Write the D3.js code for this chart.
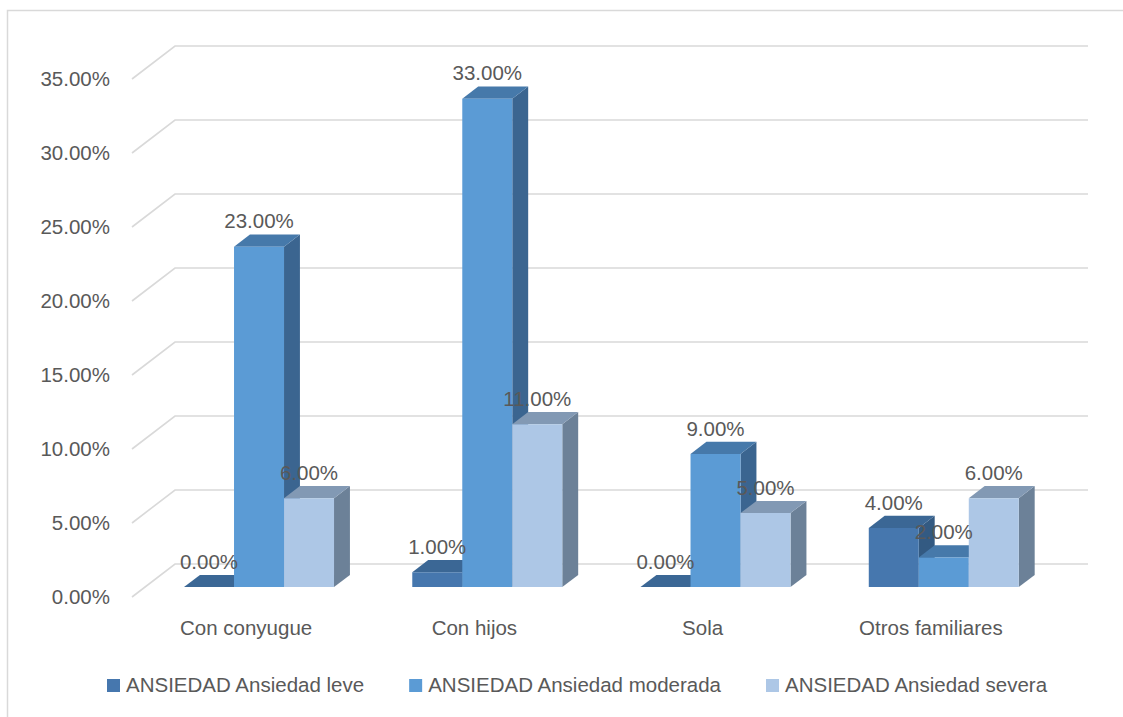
<!DOCTYPE html>
<html lang="es">
<head>
<meta charset="utf-8">
<title>Ansiedad</title>
<script src="https://cdnjs.cloudflare.com/ajax/libs/d3/7.8.5/d3.min.js"></script>
<style>
  body { margin: 0; background: #fff; }
  text { font-family: "Liberation Sans", Arial, sans-serif; fill: #595959; }
</style>
</head>
<body>
<div id="chart"></div>
<script>
// data
var categories = ["Con conyugue", "Con hijos", "Sola", "Otros familiares"];
var seriesNames = ["ANSIEDAD Ansiedad leve", "ANSIEDAD Ansiedad moderada", "ANSIEDAD Ansiedad severa"];
var leve = [0, 1, 0, 4];
var moderada = [23, 33, 9, 2];
var severa = [6, 11, 5, 6];
var yTicks = [0, 5, 10, 15, 20, 25, 30, 35];

var width = 1123, height = 717;
var svg = d3.select("#chart").append("svg").attr("width", width).attr("height", height);

// outer frame (only top and left show in the picture)
svg.append("rect").attr("x", 7.5).attr("y", 10.5).attr("width", 1300).attr("height", 900)
    .attr("fill", "none").attr("stroke", "#d9d9d9").attr("stroke-width", 1.5);

var x0 = d3.scaleBand().domain(categories).range([132, 1045]);
var x1 = d3.scaleBand().domain(seriesNames)
    .range([(x0.bandwidth() - 150) / 2, (x0.bandwidth() + 150) / 2]);
var y = d3.scaleLinear().domain([0, 35]).range([597, 79]);

// oblique depth: full depth goes 43 right and 33 up
var DX = 43, DY = -33;
var zFront = 0.3, zBack = 0.67;
function P(px, py, z) { return [px + DX * z, py + DY * z]; }

var fronts = ["#4677ae", "#5b9bd5", "#adc7e6"];
var tops = ["#3b6795", "#4679aa", "#8299b4"];
var sides = ["#335a82", "#3b6590", "#6c8198"];

// gridlines: left wall + back wall
var grid = svg.append("g");
yTicks.forEach(function(t) {
    var pts = [P(x0.range()[0], y(t), 0), P(x0.range()[0], y(t), 1), P(x0.range()[1], y(t), 1)];
    grid.append("polyline").attr("points", pts.map(function(p) { return p.join(","); }).join(" "))
        .attr("fill", "none").attr("stroke", "#d9d9d9").attr("stroke-width", 1.6);
});

// y axis labels
svg.append("g").selectAll("text").data(yTicks).enter().append("text")
    .attr("x", 110).attr("y", function(d) { return y(d); }).attr("dy", "0.36em")
    .attr("text-anchor", "end").attr("font-size", "20.5px")
    .text(function(d) { return d3.format(".2f")(d) + "%"; });

var allSeries = [leve, moderada, severa];
var bars = [];
categories.forEach(function(c, ci) {
    seriesNames.forEach(function(s, si) {
        bars.push({ cat: c, si: si, v: allSeries[si][ci] });
    });
});

var gBars = svg.append("g");
bars.forEach(function(b) {
    var xl = x0(b.cat) + x1(seriesNames[b.si]);
    var xr = xl + x1.bandwidth();
    var yv = y(b.v), yb = y(0);
    var poly = function(pts) {
        gBars.append("polygon").attr("points", pts.map(function(p) { return p.join(","); }).join(" "));
        return gBars.select("polygon:last-child");
    };
    poly([P(xr, yv, zFront), P(xr, yb, zFront), P(xr, yb, zBack), P(xr, yv, zBack)]).attr("fill", sides[b.si]);
    poly([P(xl, yv, zFront), P(xr, yv, zFront), P(xr, yv, zBack), P(xl, yv, zBack)]).attr("fill", tops[b.si]);
    poly([P(xl, yv, zFront), P(xr, yv, zFront), P(xr, yb, zFront), P(xl, yb, zFront)]).attr("fill", fronts[b.si]);
});

// value labels
svg.append("g").selectAll("text").data(bars).enter().append("text")
    .attr("x", function(d) { return x0(d.cat) + x1(seriesNames[d.si]) + x1.bandwidth() / 2 + DX * zFront; })
    .attr("y", function(d) { return y(d.v) + DY * zBack - 6; })
    .attr("text-anchor", "middle").attr("font-size", "20.5px").attr("fill", "#404040")
    .text(function(d) { return d3.format(".2f")(d.v) + "%"; });

// category labels
svg.append("g").selectAll("text").data(categories).enter().append("text")
    .attr("x", function(d) { return x0(d) + x0.bandwidth() / 2; }).attr("y", 635)
    .attr("text-anchor", "middle").attr("font-size", "20.5px")
    .text(function(d) { return d; });

// legend
var legend = svg.append("g");
var lx = 107;
seriesNames.forEach(function(s, i) {
    legend.append("rect").attr("x", lx).attr("y", 679).attr("width", 13).attr("height", 13).attr("fill", fronts[i]);
    var t = legend.append("text").attr("x", lx + 19).attr("y", 685).attr("dy", "0.36em")
        .attr("font-size", "20.5px").text(s);
    lx += 19 + t.node().getComputedTextLength() + 45;
});
</script>
</body>
</html>
